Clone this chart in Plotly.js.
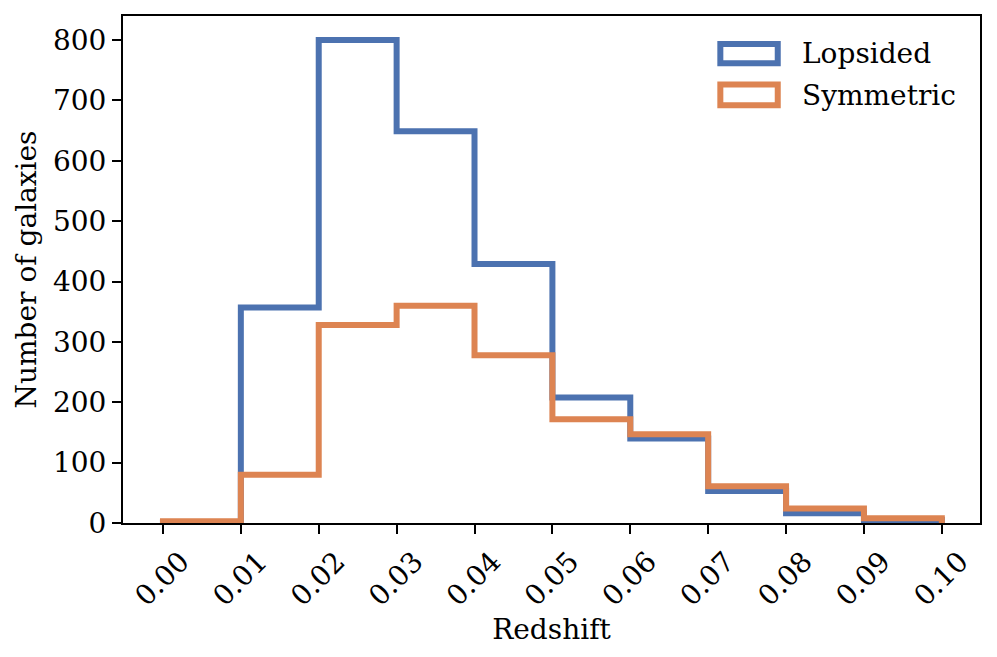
<!DOCTYPE html>
<html>
<head>
<meta charset="utf-8">
<script src="https://cdn.plot.ly/plotly-3.0.1.min.js"></script>
<style>html,body{margin:0;padding:0;background:#fff;}#chart{width:997px;height:657px;}</style>
</head>
<body>
<div id="chart"></div>
<script>
const binEdges = [0.00, 0.01, 0.02, 0.03, 0.04, 0.05, 0.06, 0.07, 0.08, 0.09, 0.10];
const lopsided = [1, 357, 800, 649, 429, 208, 140, 53, 16, 5];
const symmetric = [3, 80, 328, 360, 278, 172, 147, 61, 24, 8];
const tickVals = [0.00, 0.01, 0.02, 0.03, 0.04, 0.05, 0.06, 0.07, 0.08, 0.09, 0.10];
const tickText = ["0.00","0.01","0.02","0.03","0.04","0.05","0.06","0.07","0.08","0.09","0.10"];
const yTicks = [0,100,200,300,400,500,600,700,800];

function stepPath(edges, counts) {
  const xs = [edges[0]], ys = [0];
  for (let i = 0; i < counts.length; i++) {
    xs.push(edges[i]); ys.push(counts[i]);
    xs.push(edges[i+1]); ys.push(counts[i]);
  }
  xs.push(edges[edges.length-1]); ys.push(0);
  return {xs, ys};
}
const blue = '#4c72b0', orange = '#dd8452';
const a = stepPath(binEdges, lopsided), b = stepPath(binEdges, symmetric);
const font = {family: 'DejaVu Serif', size: 28, color: '#000'};
const traces = [
  {x: a.xs, y: a.ys, mode: 'lines', line: {color: blue, width: 6, shape: 'linear'}, name: 'Lopsided', showlegend: false},
  {x: b.xs, y: b.ys, mode: 'lines', line: {color: orange, width: 6, shape: 'linear'}, name: 'Symmetric', showlegend: false}
];
const layout = {
  width: 997, height: 657,
  margin: {l: 123, r: 17, t: 16, b: 134},
  paper_bgcolor: '#fff', plot_bgcolor: '#fff',
  font: font,
  xaxis: {
    range: [-0.00513, 0.1049], tickvals: tickVals, ticktext: tickText, tickangle: -45,
    ticklabelshift: 18,
    showgrid: false, zeroline: false, showline: true, mirror: true, linecolor: '#000', linewidth: 2,
    ticks: 'outside', ticklen: 9, tickwidth: 2, tickcolor: '#000', tickfont: font,
    title: {text: 'Redshift', font: font, standoff: 0}
  },
  yaxis: {
    range: [0, 839.8], tickvals: yTicks,
    showgrid: false, zeroline: false, showline: true, mirror: true, linecolor: '#000', linewidth: 2,
    ticks: 'outside', ticklen: 9, tickwidth: 2, tickcolor: '#000', tickfont: font,
    title: {text: 'Number of galaxies', font: font, standoff: 8}
  },
  shapes: [
    {type: 'rect', xref: 'paper', yref: 'paper', x0: 0.697, x1: 0.764, y0: 0.907, y1: 0.945, line: {color: blue, width: 6}, fillcolor: 'rgba(0,0,0,0)'},
    {type: 'rect', xref: 'paper', yref: 'paper', x0: 0.697, x1: 0.764, y0: 0.824, y1: 0.865, line: {color: orange, width: 6}, fillcolor: 'rgba(0,0,0,0)'}
  ],
  annotations: [
    {xref: 'paper', yref: 'paper', x: 0.790, y: 0.926, text: 'Lopsided', showarrow: false, xanchor: 'left', yanchor: 'middle', font: font},
    {xref: 'paper', yref: 'paper', x: 0.790, y: 0.844, text: 'Symmetric', showarrow: false, xanchor: 'left', yanchor: 'middle', font: font}
  ]
};
Plotly.newPlot('chart', traces, layout, {displayModeBar: false, staticPlot: true});
</script>
</body>
</html>
